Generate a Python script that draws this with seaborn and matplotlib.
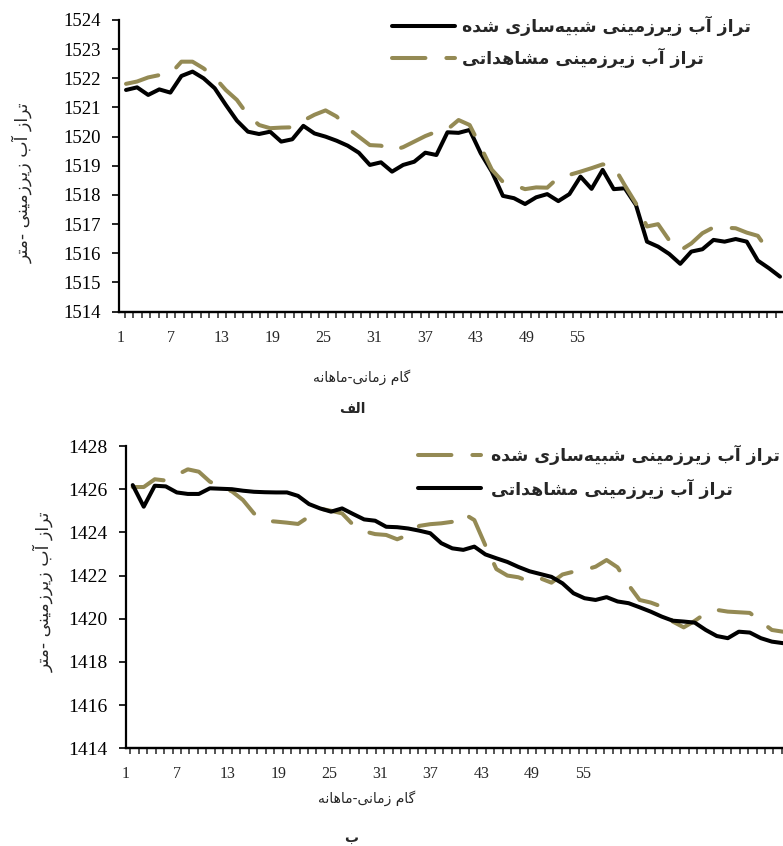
import numpy as np
import pandas as pd
import matplotlib
matplotlib.use("Agg")
import matplotlib.pyplot as plt
from matplotlib.ticker import FixedLocator
import seaborn as sns

# ---- data ----
months = list(range(1, 61))

top_simulated = [1521.6, 1521.69, 1521.43, 1521.62, 1521.51, 1522.08, 1522.23, 1522.0, 1521.66, 1521.09,
                 1520.55, 1520.17, 1520.09, 1520.17, 1519.83, 1519.91, 1520.37, 1520.11, 1520.0, 1519.86,
                 1519.69, 1519.45, 1519.03, 1519.12, 1518.8, 1519.03, 1519.14, 1519.45, 1519.37, 1520.15,
                 1520.13, 1520.23, 1519.43, 1518.8, 1517.97, 1517.89, 1517.69, 1517.92, 1518.03, 1517.79,
                 1518.03, 1518.63, 1518.21, 1518.86, 1518.2, 1518.23, 1517.66, 1516.4, 1516.23, 1515.98,
                 1515.64, 1516.06, 1516.14, 1516.46, 1516.4, 1516.49, 1516.4, 1515.75, 1515.49, 1515.2]

top_observed = [1521.81, 1521.89, 1522.03, 1522.11, 1522.15, 1522.57, 1522.57, 1522.34, 1522.03, 1521.6,
                1521.26, 1520.74, 1520.4, 1520.29, 1520.31, 1520.32, 1520.55, 1520.75, 1520.9, 1520.69,
                1520.29, 1520.0, 1519.71, 1519.69, 1519.52, 1519.64, 1519.83, 1520.02, 1520.17, 1520.25,
                1520.57, 1520.4, 1519.65, 1518.87, 1518.45, 1518.34, 1518.2, 1518.26, 1518.25, 1518.6,
                1518.69, 1518.8, 1518.92, 1519.05, 1518.98, 1518.33, 1517.71, 1516.92, 1517.0, 1516.45,
                1516.1, 1516.34, 1516.69, 1516.89, 1516.88, 1516.86, 1516.71, 1516.6, 1516.06]

bottom_simulated = [1426.1, 1426.1, 1426.46, 1426.4, 1426.66, 1426.92, 1426.81, 1426.35, 1426.1, 1425.9,
                    1425.5, 1424.88, 1424.54, 1424.5, 1424.45, 1424.39, 1424.73, 1425.1, 1425.0, 1424.88,
                    1424.35, 1424.05, 1423.92, 1423.88, 1423.68, 1423.88, 1424.3, 1424.38, 1424.42, 1424.49,
                    1424.88, 1424.57, 1423.4, 1422.3, 1422.0, 1421.92, 1421.72, 1421.87, 1421.67, 1422.05,
                    1422.18, 1422.26, 1422.41, 1422.72, 1422.38, 1421.56, 1420.87, 1420.75, 1420.56, 1419.87,
                    1419.6, 1419.9, 1420.26, 1420.41, 1420.33, 1420.3, 1420.27, 1419.87, 1419.48, 1419.4]

bottom_observed = [1426.19, 1425.19, 1426.16, 1426.13, 1425.85, 1425.78, 1425.78, 1426.04, 1426.02, 1426.0,
                   1425.93, 1425.88, 1425.86, 1425.85, 1425.85, 1425.69, 1425.31, 1425.11, 1424.96, 1425.11,
                   1424.85, 1424.6, 1424.54, 1424.26, 1424.24, 1424.18, 1424.08, 1423.96, 1423.5, 1423.26,
                   1423.19, 1423.34, 1422.98, 1422.8, 1422.63, 1422.4, 1422.2, 1422.07, 1421.94, 1421.64,
                   1421.18, 1420.95, 1420.87, 1421.0, 1420.8, 1420.72, 1420.53, 1420.33, 1420.1, 1419.91,
                   1419.87, 1419.82, 1419.48, 1419.2, 1419.1, 1419.4, 1419.36, 1419.1, 1418.94, 1418.87]

tick_labels = [1, 7, 13, 19, 25, 31, 37, 43, 49, 55]

LBL_SIM = "تراز آب زیرزمینی شبیه\u200cسازی شده"
LBL_OBS = "تراز آب زیرزمینی مشاهداتی"
YLABEL = "تراز آب زیرزمینی -متر"
XLABEL = "گام زمانی-ماهانه"
CAP_A = "الف"
CAP_B = "ب"

OLIVE = "#948A54"


# ---- tiny Persian shaper (no arabic_reshaper available) ----
# char: (isolated, final, initial, medial)
FORMS = {
    "\u0627": ("\uFE8D", "\uFE8E", None, None),
    "\u0622": ("\uFE81", "\uFE82", None, None),
    "\u062F": ("\uFEA9", "\uFEAA", None, None),
    "\u0631": ("\uFEAD", "\uFEAE", None, None),
    "\u0632": ("\uFEAF", "\uFEB0", None, None),
    "\u0628": ("\uFE8F", "\uFE90", "\uFE91", "\uFE92"),
    "\u062A": ("\uFE95", "\uFE96", "\uFE97", "\uFE98"),
    "\u0633": ("\uFEB1", "\uFEB2", "\uFEB3", "\uFEB4"),
    "\u0634": ("\uFEB5", "\uFEB6", "\uFEB7", "\uFEB8"),
    "\u0641": ("\uFED1", "\uFED2", "\uFED3", "\uFED4"),
    "\u0644": ("\uFEDD", "\uFEDE", "\uFEDF", "\uFEE0"),
    "\u0645": ("\uFEE1", "\uFEE2", "\uFEE3", "\uFEE4"),
    "\u0646": ("\uFEE5", "\uFEE6", "\uFEE7", "\uFEE8"),
    "\u0647": ("\uFEE9", "\uFEEA", "\uFEEB", "\uFEEC"),
    "\u06CC": ("\uFBFC", "\uFBFD", "\uFBFE", "\uFBFF"),
    "\u06AF": ("\uFB92", "\uFB93", "\uFB94", "\uFB95"),
}


def fa(text):
    out = []
    n = len(text)
    for j, c in enumerate(text):
        if c == "\u200c":
            continue
        if c not in FORMS:
            out.append(c)
            continue
        prev = text[j - 1] if j > 0 else None
        nxt = text[j + 1] if j + 1 < n else None
        join_prev = prev in FORMS and FORMS[prev][2] is not None
        join_next = FORMS[c][2] is not None and nxt in FORMS
        iso, fin, ini, med = FORMS[c]
        if join_prev and join_next:
            out.append(med)
        elif join_prev:
            out.append(fin)
        elif join_next:
            out.append(ini)
        else:
            out.append(iso)
    return "".join(reversed(out))


sns.set_style("ticks")
plt.rcParams["font.family"] = ["Liberation Serif", "DejaVu Sans"]
FA_FONT = ["DejaVu Sans"]

df_top = pd.DataFrame({"month": months, "sim": top_simulated,
                       "obs": top_observed + [np.nan]})
df_bot = pd.DataFrame({"month": months, "sim": bottom_simulated, "obs": bottom_observed})

fig = plt.figure(figsize=(7.83, 8.46), dpi=100)
ax1 = fig.add_axes([0.152, 0.6316, 0.848, 0.3448])
ax2 = fig.add_axes([0.1603, 0.1155, 0.8397, 0.3573])

LW = 2.9
dash_style = (0, (8.3, 5.2))

# top panel: simulated solid black, observed dashed olive
sns.lineplot(data=df_top, x="month", y="sim", ax=ax1, color="black", linewidth=LW,
             solid_capstyle="round", solid_joinstyle="round", label=fa(LBL_SIM))
sns.lineplot(data=df_top.dropna(), x="month", y="obs", ax=ax1, color=OLIVE, linewidth=LW,
             linestyle=dash_style, dash_capstyle="round", dash_joinstyle="round",
             label=fa(LBL_OBS))

# bottom panel: simulated dashed olive, observed solid black
sns.lineplot(data=df_bot, x="month", y="sim", ax=ax2, color=OLIVE, linewidth=LW,
             linestyle=dash_style, dash_capstyle="round", dash_joinstyle="round",
             label=fa(LBL_SIM))
sns.lineplot(data=df_bot, x="month", y="obs", ax=ax2, color="black", linewidth=LW,
             solid_capstyle="round", solid_joinstyle="round", label=fa(LBL_OBS))


def style_axis(ax, yticks, xlim, a, b, ylab_size, xlab_size):
    for s in ["top", "right"]:
        ax.spines[s].set_visible(False)
    for s in ["left", "bottom"]:
        ax.spines[s].set_linewidth(1.6)
        ax.spines[s].set_color("black")
    ax.set_xlim(*xlim)
    ax.set_ylim(yticks[0], yticks[-1])
    ax.set_yticks(yticks)
    ax.tick_params(axis="y", direction="out", length=5, width=1.2, pad=8,
                   labelsize=ylab_size, colors="black")
    ax.tick_params(axis="x", bottom=False, labelbottom=False)
    ax.set_xlabel("")
    ax.set_ylabel("")
    # category style axis: labels between tick marks
    sec = ax.secondary_xaxis("bottom", functions=(lambda i: a * (i - 1) + b,
                                                  lambda k: (k - b) / a + 1))
    sec.set_xticks(tick_labels)
    sec.set_xticklabels([str(t) for t in tick_labels])
    sec.xaxis.set_minor_locator(FixedLocator(np.arange(0.5, 82, 1.0)))
    sec.tick_params(which="major", length=0, pad=13, labelsize=xlab_size)
    sec.tick_params(which="minor", direction="out", length=4, width=1.1)
    sec.spines["bottom"].set_linewidth(1.6)
    return sec


style_axis(ax1, list(range(1514, 1525)), (0.3685, 60.27), 1.3112, 1.6506, 13.5, 11.5)
style_axis(ax2, list(range(1414, 1429, 2)), (0.347, 60.01), 1.3021, 1.7917, 14, 11.5)

# legends
ax1.legend(loc="upper left", bbox_to_anchor=(392 / 783, 1 - 16 / 846),
           bbox_transform=fig.transFigure, frameon=False, borderpad=0, borderaxespad=0,
           handlelength=3.6, handletextpad=0.45, labelspacing=0.65,
           prop={"family": FA_FONT, "weight": "bold", "size": 12.5})
ax2.legend(loc="upper left", bbox_to_anchor=(418 / 783, 1 - 445 / 846),
           bbox_transform=fig.transFigure, frameon=False, borderpad=0, borderaxespad=0,
           handlelength=3.6, handletextpad=0.6, labelspacing=0.75,
           prop={"family": FA_FONT, "weight": "bold", "size": 12.5})

# axis titles and captions
fig.text(22 / 783, 1 - 183 / 846, fa(YLABEL), rotation=90, ha="center", va="center",
         family=FA_FONT, fontsize=12.4)
fig.text(43 / 783, 1 - 592 / 846, fa(YLABEL), rotation=90, ha="center", va="center",
         family=FA_FONT, fontsize=12.4)
fig.text(362 / 783, 1 - 377 / 846, fa(XLABEL), ha="center", va="center",
         family=FA_FONT, fontsize=10)
fig.text(367 / 783, 1 - 798 / 846, fa(XLABEL), ha="center", va="center",
         family=FA_FONT, fontsize=10)
fig.text(352 / 783, 1 - 409 / 846, fa(CAP_A), ha="center", va="center",
         family=FA_FONT, fontsize=10, weight="bold")
fig.text(351 / 783, 1 - 838 / 846, fa(CAP_B), ha="center", va="center",
         family=FA_FONT, fontsize=10, weight="bold")

fig.savefig("out.png", dpi=100)
